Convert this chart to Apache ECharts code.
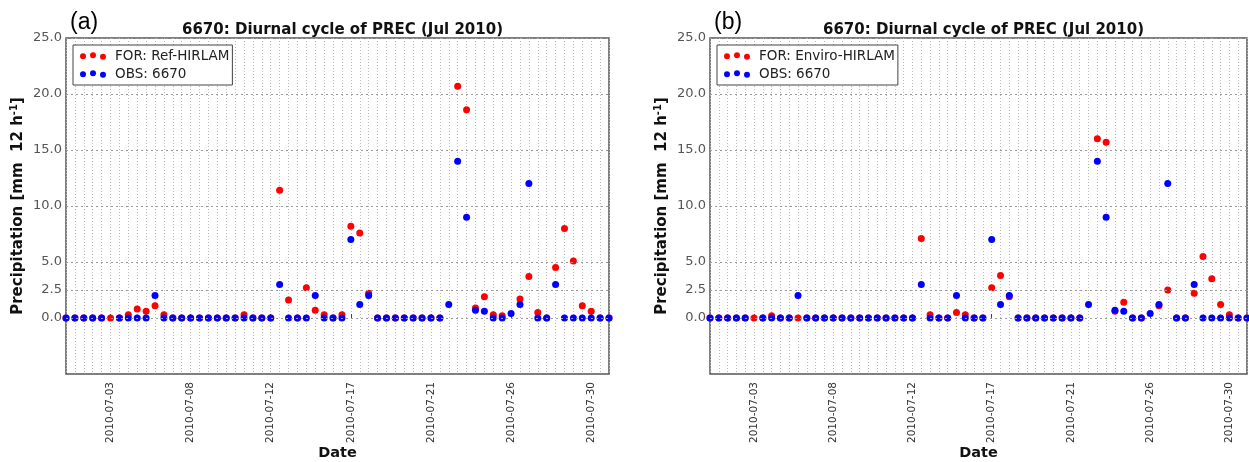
<!DOCTYPE html>
<html><head><meta charset="utf-8">
<script src="https://cdn.jsdelivr.net/npm/echarts@6/dist/echarts.min.js"></script>
<style>html,body{margin:0;padding:0;background:#fff}#c{width:1249px;height:462px}</style>
</head><body><div id="c"></div>
<script>
const categories = [
 '2010-06-30 18:00','2010-07-01 06:00','2010-07-01 18:00','2010-07-02 06:00','2010-07-02 18:00',
 '2010-07-03 06:00','2010-07-03 18:00','2010-07-04 06:00','2010-07-04 18:00','2010-07-05 06:00',
 '2010-07-05 18:00','2010-07-06 06:00','2010-07-06 18:00','2010-07-07 06:00','2010-07-07 18:00',
 '2010-07-08 06:00','2010-07-08 18:00','2010-07-09 06:00','2010-07-09 18:00','2010-07-10 06:00',
 '2010-07-10 18:00','2010-07-11 06:00','2010-07-11 18:00','2010-07-12 06:00','2010-07-12 18:00',
 '2010-07-13 06:00','2010-07-13 18:00','2010-07-14 06:00','2010-07-14 18:00','2010-07-15 06:00',
 '2010-07-15 18:00','2010-07-16 06:00','2010-07-16 18:00','2010-07-17 06:00','2010-07-17 18:00',
 '2010-07-18 06:00','2010-07-18 18:00','2010-07-19 06:00','2010-07-19 18:00','2010-07-20 06:00',
 '2010-07-20 18:00','2010-07-21 06:00','2010-07-21 18:00','2010-07-22 06:00','2010-07-22 18:00',
 '2010-07-23 06:00','2010-07-23 18:00','2010-07-24 06:00','2010-07-24 18:00','2010-07-25 06:00',
 '2010-07-25 18:00','2010-07-26 06:00','2010-07-26 18:00','2010-07-27 06:00','2010-07-27 18:00',
 '2010-07-28 06:00','2010-07-28 18:00','2010-07-29 06:00','2010-07-29 18:00','2010-07-30 06:00',
 '2010-07-30 18:00','2010-07-31 06:00'
];
// Observations at station 6670 (identical in both panels)
const obs6670 = [
 0,0,0,0,0, null,0,0,0,0,
 2.0,0,0,0,0, 0,0,0,0,0,
 0,0,0,0,3.0, 0,0,0,2.0,0,
 0,0,7.0,1.2,2.0, 0,0,0,0,0,
 0,0,0,1.2,14.0, 9.0,0.7,0.6,0,0,
 0.4,1.2,12.0,0,0, 3.0,0,0,0,0,
 0,0
];
// Forecast Ref-HIRLAM (panel a)
const forRef = [
 0,0,0,0,0, 0,0,0.3,0.8,0.6,
 1.1,0.3,0,0,0, 0,0,0,0,0,
 0.3,0,0,0,11.4, 1.6,0,2.7,0.7,0.3,
 0,0.3,8.2,7.6,2.2, 0,0,0,0,0,
 0,0,0,null,20.7, 18.6,0.9,1.9,0.3,0.2,
 null,1.7,3.7,0.5,0, 4.5,8.0,5.1,1.1,0.6,
 0,0
];
// Forecast Enviro-HIRLAM (panel b)
const forEnviro = [
 0,0,0,0,0, 0,0,0.2,0,0,
 0,0,0,0,0, 0,0,0,0,0,
 0,0,0,0,7.1, 0.3,0,0,0.5,0.3,
 0,0,2.7,3.8,1.9, 0,0,0,0,0,
 0,0,0,null,16.0, 15.7,0.6,1.4,0,0,
 null,1.1,2.5,0,0, 2.2,5.5,3.5,1.2,0.3,
 0,0
];
const tickAt = ['2010-07-03 06:00','2010-07-07 18:00','2010-07-12 06:00','2010-07-16 18:00','2010-07-21 06:00','2010-07-25 18:00','2010-07-30 06:00'];
const tickLabels = ['2010-07-03','2010-07-08','2010-07-12','2010-07-17','2010-07-21','2010-07-26','2010-07-30'];
const yTicks = [0, 2.5, 5, 10, 15, 20, 25];
const titleText = '6670: Diurnal cycle of PREC (Jul 2010)';
const obsName = 'OBS: 6670';

const panels = [
 {tag:'(a)', forName:'FOR: Ref-HIRLAM', forData: forRef, left:66, width:543, top:38, height:336},
 {tag:'(b)', forName:'FOR: Enviro-HIRLAM', forData: forEnviro, left:710, width:537, top:38, height:336}
];

const FONT = 'DejaVu Sans';
const dotsIcon = 'path://M0,4.5a3,3 0 1,0 6,0a3,3 0 1,0 -6,0zM10,3.5a3,3 0 1,0 6,0a3,3 0 1,0 -6,0zM20,5a3,3 0 1,0 6,0a3,3 0 1,0 -6,0z';

const option = {
  animation: false,
  backgroundColor: '#fff',
  title: [], legend: [], grid: [], xAxis: [], yAxis: [], series: []
};

panels.forEach((p, k) => {
  option.title.push({
    text: titleText, left: p.left + p.width / 2, textAlign: 'center', top: 18,
    textStyle: {fontFamily: FONT, fontWeight: 'bold', fontSize: 15, color: '#111'}
  });
  option.title.push({
    text: p.tag, left: p.left - 1, top: 6,
    textStyle: {fontFamily: 'Liberation Sans', fontWeight: 'normal', fontSize: 23, color: '#000'}
  });
  option.grid.push({
    left: p.left, top: p.top, width: p.width, height: p.height,
    containLabel: false, outerBoundsMode: 'none',
    show: true, borderColor: '#555', borderWidth: 1.5, backgroundColor: 'transparent'
  });
  option.legend.push({
    left: p.left + 7, top: p.top + 7, orient: 'vertical',
    padding: [4, 3, 4, 7], itemGap: 4, itemWidth: 26, itemHeight: 8,
    borderColor: '#444', borderWidth: 1, backgroundColor: '#fff',
    textStyle: {fontFamily: FONT, fontSize: 13.5, color: '#222', padding: [0, 0, 0, 4]},
    data: [{name: p.forName, icon: dotsIcon}, {name: obsName, icon: dotsIcon}],
    selectedMode: false
  });
  option.xAxis.push({
    type: 'category', gridIndex: k, data: categories, boundaryGap: false,
    name: 'Date', nameLocation: 'middle', nameGap: 72, nameMoveOverlap: false,
    nameTextStyle: {fontFamily: FONT, fontWeight: 'bold', fontSize: 14.5, color: '#111', verticalAlign: 'top'},
    axisLine: {show: false},
    axisTick: {show: true, inside: true, length: 4, lineStyle: {color: '#444'},
      interval: (i, v) => tickAt.includes(v)},
    axisLabel: {rotate: 90, margin: 8, fontFamily: FONT, fontSize: 10.5, color: '#333',
      interval: (i, v) => tickAt.includes(v),
      formatter: v => { const j = tickAt.indexOf(v); return j >= 0 ? tickLabels[j] : ''; }},
    splitLine: {show: true, interval: 0, lineStyle: {color: '#b8b8b8', type: [1, 2], width: 1}}
  });
  option.yAxis.push({
    type: 'value', gridIndex: k, min: -5, max: 25, interval: 2.5,
    name: '{b|Precipitation [mm  12 h}{s|-1}{b|]}', nameLocation: 'middle', nameGap: 38, nameRotate: 90,
    nameMoveOverlap: false,
    nameTextStyle: {rich: {
      b: {fontFamily: FONT, fontWeight: 'bold', fontSize: 15, color: '#111'},
      s: {fontFamily: FONT, fontWeight: 'bold', fontSize: 10, color: '#111', verticalAlign: 'top', padding: [0, 0, 9, 0]}
    }},
    axisLine: {show: false}, axisTick: {show: false},
    axisLabel: {margin: 4, fontFamily: FONT, fontSize: 13, color: '#555',
      formatter: v => yTicks.includes(v) ? v.toFixed(1) : ''},
    splitLine: {show: false}
  });
  option.series.push({
    type: 'scatter', xAxisIndex: k, yAxisIndex: k, data: [], z: 1, silent: true,
    markLine: {silent: true, symbol: 'none', animation: false, label: {show: false},
      lineStyle: {color: '#999', type: [2, 3], width: 1},
      data: yTicks.map(v => ({yAxis: v}))}
  });
  option.series.push({
    name: p.forName, type: 'scatter', xAxisIndex: k, yAxisIndex: k, data: p.forData,
    symbol: 'circle', symbolSize: 7, clip: false, z: 3,
    itemStyle: {color: '#ff0000', opacity: 1}
  });
  option.series.push({
    name: obsName, type: 'scatter', xAxisIndex: k, yAxisIndex: k, data: obs6670,
    symbol: 'circle', symbolSize: 7, clip: false, z: 4,
    itemStyle: {color: '#0000ff', opacity: 1}
  });
});

const chart = echarts.init(document.getElementById('c'), null, {renderer: 'canvas'});
chart.setOption(option);
</script>
</body></html>
